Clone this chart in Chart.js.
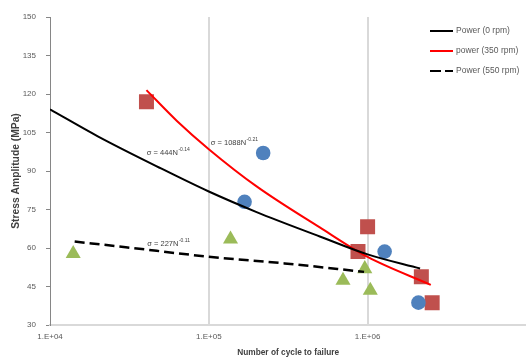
<!DOCTYPE html>
<html><head><meta charset="utf-8">
<script src="https://cdn.jsdelivr.net/npm/chart.js@4/dist/chart.umd.min.js"></script>
<style>html,body{margin:0;padding:0;background:#fff;overflow:hidden;width:526px;height:361px}#wrap{width:526px;height:361px;position:relative;overflow:hidden}canvas{display:block}</style>
</head><body><div id="wrap"><canvas id="c" width="537" height="361"></canvas></div>
<script>
// ---- data ----
const seriesNames = ['Power (0 rpm)', 'power (350 rpm)', 'Power (550 rpm)'];
const xTickValues = [1e4, 1e5, 1e6];
const xTickLabels = ['1.E+04', '1.E+05', '1.E+06'];
const yTickValues = [30, 45, 60, 75, 90, 105, 120, 135, 150];

// measured points (cycles, stress amplitude MPa)
const cycles0 = [2.2e5, 1.68e5, 1.28e6, 2.09e6];
const stress0 = [97, 78, 58.6, 38.7];
const cycles350 = [4.05e4, 1.0e6, 8.7e5, 2.18e6, 2.55e6];
const stress350 = [117, 68.3, 58.6, 48.8, 38.7];
const cycles550 = [1.4e4, 1.37e5, 7.0e5, 9.6e5, 1.04e6];
const stress550 = [57.8, 63.4, 47.4, 51.9, 43.5];

// power trend lines
const fitCycles0 = [1e4, 2e4, 5e4, 1e5, 2e5, 5e5, 1e6, 2.14e6];
const fitStress0 = [114, 103.5, 91, 82, 74, 64.5, 57.5, 52];
const fitCycles350 = [4.05e4, 6.3e4, 1e5, 2e5, 5e5, 1e6, 2.5e6];
const fitStress350 = [121.5, 109.5, 98.5, 84, 68, 56.5, 45.6];
const fitCycles550 = [1.43e4, 3e4, 1e5, 3e5, 9.5e5];
const fitStress550 = [62.5, 60.3, 56.6, 54, 50.7];

// trend-line equation labels
const eqBase = ['σ = 444N', 'σ = 1088N', 'σ = 227N'];
const eqExp = ['-0.14', '-0.21', '-0.11'];
const eqAnchorN = [4.07e4, 1.03e5, 4.1e4];
const eqAnchorS = [97, 100.9, 61.6];

const pts = (xs, ys) => xs.map((x, i) => ({x, y: ys[i]}));

const FONT = "'Liberation Sans', Arial, sans-serif";
const BLUE = '#4F81BD', RED = '#C0504D', GREEN = '#9BBB59';

const overlay = {
  id: 'overlay',
  afterDatasetsDraw(chart) {
    const ctx = chart.ctx;
    const xs = chart.scales.x, ys = chart.scales.y;
    ctx.save();
    ctx.fillStyle = '#404040';
    ctx.textBaseline = 'middle';
    ctx.textAlign = 'left';
    for (let i = 0; i < eqBase.length; i++) {
      const px = xs.getPixelForValue(eqAnchorN[i]);
      const py = ys.getPixelForValue(eqAnchorS[i]);
      ctx.font = '7.5px ' + FONT;
      ctx.fillText(eqBase[i], px, py);
      const w = ctx.measureText(eqBase[i]).width;
      ctx.font = '5px ' + FONT;
      ctx.fillText(eqExp[i], px + w + 0.5, py - 3);
    }
    const lx = 430, ly = [31, 51, 71];
    const styles = [
      {c: '#000', d: []},
      {c: '#FF0000', d: []},
      {c: '#000', d: [11, 4]}
    ];
    for (let i = 0; i < 3; i++) {
      ctx.beginPath();
      ctx.setLineDash(styles[i].d);
      ctx.strokeStyle = styles[i].c;
      ctx.lineWidth = 2;
      ctx.moveTo(lx, ly[i]);
      ctx.lineTo(lx + 23, ly[i]);
      ctx.stroke();
      ctx.setLineDash([]);
      ctx.fillStyle = '#595959';
      ctx.font = '8.5px ' + FONT;
      ctx.fillText(seriesNames[i], lx + 26, ly[i]);
    }
    ctx.restore();
  }
};

new Chart(document.getElementById('c'), {
  type: 'scatter',
  data: {
    datasets: [
      {label: seriesNames[0], data: pts(fitCycles0, fitStress0), showLine: true, borderColor: '#000', borderWidth: 2, pointRadius: 0, cubicInterpolationMode: 'monotone', fill: false},
      {label: seriesNames[1], data: pts(fitCycles350, fitStress350), showLine: true, borderColor: '#FF0000', borderWidth: 2, pointRadius: 0, cubicInterpolationMode: 'monotone', fill: false},
      {label: seriesNames[2], data: pts(fitCycles550, fitStress550), showLine: true, borderColor: '#000', borderWidth: 2.5, borderDash: [10, 5], pointRadius: 0, cubicInterpolationMode: 'monotone', fill: false},
      {label: '0 rpm', data: pts(cycles0, stress0), pointStyle: 'circle', pointRadius: 7.3, backgroundColor: BLUE, borderColor: BLUE, borderWidth: 0},
      {label: '350 rpm', data: pts(cycles350, stress350), pointStyle: 'rect', pointRadius: 10.6, backgroundColor: RED, borderColor: RED, borderWidth: 0},
      {label: '550 rpm', data: pts(cycles550, stress550), pointStyle: 'triangle', pointRadius: 8.7, backgroundColor: GREEN, borderColor: GREEN, borderWidth: 0}
    ]
  },
  options: {
    responsive: false,
    animation: false,
    events: [],
    layout: {padding: {top: 17, right: 0, left: 0, bottom: 0}},
    plugins: {legend: {display: false}, tooltip: {enabled: false}},
    scales: {
      x: {
        type: 'logarithmic',
        min: 1e4, max: 1e7,
        afterBuildTicks: s => { s.ticks = xTickValues.map(v => ({value: v, major: true})); },
        afterFit: s => { s.height = 36; s.paddingLeft = 0; s.paddingRight = 0; },
        ticks: {
          autoSkip: false, maxRotation: 0, padding: 7,
          color: '#595959', font: {family: FONT, size: 8},
          callback: (v) => { const i = xTickValues.indexOf(v); return i >= 0 ? xTickLabels[i] : ''; }
        },
        grid: {
          drawTicks: false,
          lineWidth: 2,
          color: ctx => (ctx.tick && ctx.tick.value === 1e4) ? 'rgba(0,0,0,0)' : '#D9D9D9'
        },
        border: {color: '#D9D9D9', width: 2},
        title: {display: true, text: 'Number of cycle to failure', color: '#404040', font: {family: FONT, size: 8.3, weight: 'bold'}, padding: {top: 0, bottom: 3}}
      },
      y: {
        min: 30, max: 150,
        afterBuildTicks: s => { s.ticks = yTickValues.map(v => ({value: v})); },
        afterFit: s => { s.width = 50; },
        ticks: {padding: 10, color: '#595959', font: {family: FONT, size: 8}},
        grid: {drawOnChartArea: false, drawTicks: true, tickLength: 4, color: '#868686'},
        border: {color: '#868686', width: 1},
        title: {display: true, text: 'Stress Amplitude (MPa)', color: '#404040', font: {family: FONT, size: 10.3, weight: 'bold'}, padding: {top: 10, bottom: 0}}
      }
    }
  },
  plugins: [overlay]
});
</script></body></html>
